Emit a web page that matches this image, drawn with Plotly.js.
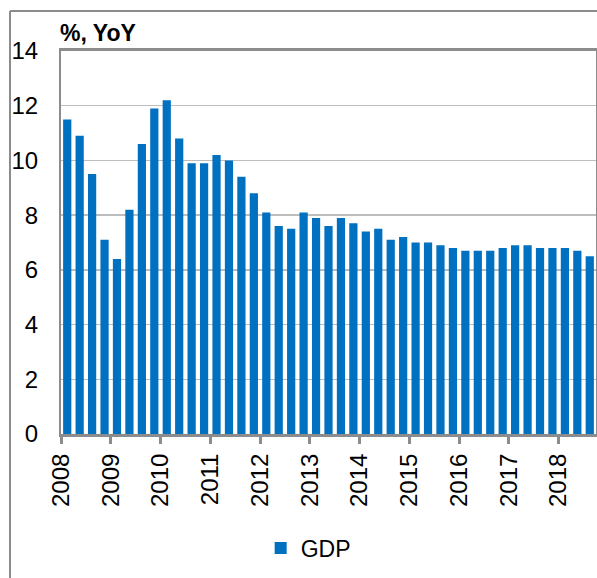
<!DOCTYPE html>
<html>
<head>
<meta charset="utf-8">
<script src="https://cdn.plot.ly/plotly-3.0.1.min.js"></script>
<style>html,body{margin:0;padding:0;background:#fff;}#chart{width:597px;height:578px;}</style>
</head>
<body>
<div id="chart"></div>
<script>
// Quarterly GDP growth, % YoY, 2008Q1 - 2018Q3
const quarters = [
  "2008Q1","2008Q2","2008Q3","2008Q4",
  "2009Q1","2009Q2","2009Q3","2009Q4",
  "2010Q1","2010Q2","2010Q3","2010Q4",
  "2011Q1","2011Q2","2011Q3","2011Q4",
  "2012Q1","2012Q2","2012Q3","2012Q4",
  "2013Q1","2013Q2","2013Q3","2013Q4",
  "2014Q1","2014Q2","2014Q3","2014Q4",
  "2015Q1","2015Q2","2015Q3","2015Q4",
  "2016Q1","2016Q2","2016Q3","2016Q4",
  "2017Q1","2017Q2","2017Q3","2017Q4",
  "2018Q1","2018Q2","2018Q3"
];
const gdp = [
  11.5, 10.9, 9.5, 7.1,
  6.4, 8.2, 10.6, 11.9,
  12.2, 10.8, 9.9, 9.9,
  10.2, 10.0, 9.4, 8.8,
  8.1, 7.6, 7.5, 8.1,
  7.9, 7.6, 7.9, 7.7,
  7.4, 7.5, 7.1, 7.2,
  7.0, 7.0, 6.9, 6.8,
  6.7, 6.7, 6.7, 6.8,
  6.9, 6.9, 6.8, 6.8,
  6.8, 6.7, 6.5
];
const yearLabels = ["2008","2009","2010","2011","2012","2013","2014","2015","2016","2017","2018"];

const xIdx = quarters.map((q, i) => i);
const yearTickVals = yearLabels.map((y, k) => k * 4 - 0.5);

const gray = '#8c8c8c';
const fam = 'Liberation Sans, Arial, sans-serif';
const font = {family: fam, size: 24, color: '#000'};

const trace = {
  type: 'bar',
  x: xIdx,
  y: gdp,
  name: 'GDP',
  text: quarters,
  hoverinfo: 'text+y',
  textposition: 'none',
  width: 0.66,
  marker: {color: '#0070C0', line: {width: 0}}
};

const layout = {
  width: 597,
  height: 578,
  margin: {l: 61, r: 1, t: 51, b: 144},
  paper_bgcolor: '#fff',
  plot_bgcolor: '#fff',
  font: font,
  showlegend: true,
  legend: {
    orientation: 'h',
    x: 0.462, xanchor: 'center',
    y: -0.298, yanchor: 'middle',
    font: {family: fam, size: 23, color: '#000'},
    itemwidth: 30
  },
  title: {
    text: '<b>%, YoY</b>',
    font: {family: fam, size: 23, color: '#000'},
    x: 60/597, xanchor: 'left', xref: 'container',
    y: 1 - 41/578, yanchor: 'bottom', yref: 'container'
  },
  xaxis: {
    range: [-0.5, 42.5],
    tickmode: 'array',
    tickvals: yearTickVals,
    ticktext: yearLabels,
    tickangle: -90,
    ticks: 'outside',
    ticklen: 7,
    tickwidth: 3,
    tickcolor: gray,
    showline: true,
    linecolor: gray,
    linewidth: 3,
    mirror: true,
    showgrid: false,
    zeroline: false,
    tickfont: font,
    fixedrange: true
  },
  yaxis: {
    range: [0, 14],
    dtick: 2,
    tick0: 0,
    ticks: '',
    ticklabelstandoff: 16,
    showline: true,
    linecolor: gray,
    linewidth: 2,
    mirror: true,
    showgrid: true,
    gridcolor: '#bdbdbd',
    gridwidth: 1.5,
    zeroline: false,
    tickfont: font,
    fixedrange: true
  },
  shapes: [
    {type: 'line', xref: 'paper', yref: 'paper',
     x0: (10 - 61) / 535, x1: (10 - 61) / 535, y0: (434 - 11) / 383, y1: (434 - 590) / 383,
     line: {color: gray, width: 2}},
    {type: 'line', xref: 'paper', yref: 'paper',
     x0: (10 - 61) / 535, x1: (610 - 61) / 535, y0: (434 - 11) / 383, y1: (434 - 11) / 383,
     line: {color: gray, width: 2}}
  ]
};

Plotly.newPlot('chart', [trace], layout, {displayModeBar: false, staticPlot: true});
</script>
</body>
</html>
